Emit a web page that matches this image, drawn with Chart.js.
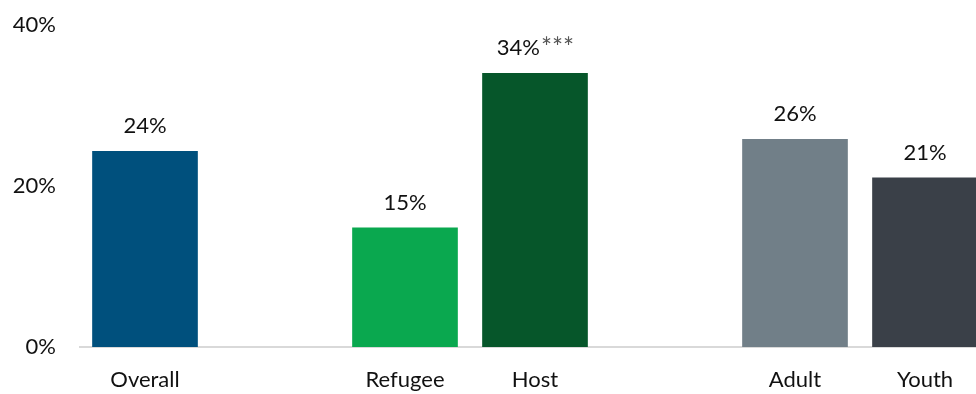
<!DOCTYPE html>
<html>
<head>
<meta charset="utf-8">
<script src="https://cdn.jsdelivr.net/npm/chart.js@4"></script>
<style>
  html, body { margin: 0; padding: 0; background: #fff; overflow: hidden; }
  .wrap { position: relative; width: 990px; height: 394px; }
</style>
</head>
<body>
<div class="wrap"><canvas id="chart"></canvas></div>
<script>
const categories = ["Overall", "", "Refugee", "Host", "", "Adult", "Youth"];
const shares = [24.3, null, 14.8, 34.0, null, 25.8, 21.0];
const valueLabels = ["24%", "", "15%", "34%", "", "26%", "21%"];
const sigMarks = ["", "", "", "***", "", "", ""];
const barColors = ["#00507d", null, "#0aa84f", "#06562a", null, "#717f88", "#3a4048"];
const yTicks = [0, 20, 40];

const FONT = "Lato, 'Open Sans', sans-serif";

// value labels above each bar
const barLabels = {
  id: "barLabels",
  afterDatasetsDraw(chart) {
    const ctx = chart.ctx;
    const meta = chart.getDatasetMeta(0);
    ctx.save();
    ctx.textBaseline = "bottom";
    meta.data.forEach((bar, i) => {
      if (shares[i] == null) return;
      const main = valueLabels[i];
      const sig = sigMarks[i];
      ctx.font = `22px ${FONT}`;
      const w1 = ctx.measureText(main).width;
      ctx.font = `26px ${FONT}`;
      const w2 = sig ? ctx.measureText(sig).width : 0;
      const x0 = bar.x - (w1 + w2) / 2;
      const y = bar.y - 14;
      ctx.fillStyle = "#111";
      ctx.textAlign = "left";
      ctx.font = `22px ${FONT}`;
      ctx.fillText(main, x0, y);
      if (sig) {
        ctx.fillStyle = "#555";
        ctx.font = `26px ${FONT}`;
        ctx.fillText(sig, x0 + w1 + 1, y + 2);
      }
    });
    ctx.restore();
  },
};

new Chart(document.getElementById("chart"), {
  type: "bar",
  data: {
    labels: categories,
    datasets: [
      {
        data: shares,
        backgroundColor: barColors,
        barThickness: 105,
      },
    ],
  },
  options: {
    responsive: true,
    maintainAspectRatio: false,
    animation: false,
    layout: { padding: { top: 25, bottom: 0, left: 0, right: 0 } },
    plugins: { legend: { display: false }, tooltip: { enabled: false } },
    scales: {
      x: {
        grid: { display: false, drawTicks: false },
        border: { display: true, color: "#d9d9d9", width: 2 },
        afterFit(scale) { scale.height = 47; },
        ticks: { color: "#111", font: { family: FONT, size: 22 }, padding: 20, autoSkip: false, maxRotation: 0 },
      },
      y: {
        min: 0,
        max: 40,
        grid: { display: false, drawTicks: false },
        border: { display: false },
        afterFit(scale) {
          scale.width = 80;
          scale.paddingTop = 0;
          scale.paddingBottom = 0;
        },
        afterBuildTicks(scale) { scale.ticks = yTicks.map((v) => ({ value: v })); },
        ticks: { color: "#111", font: { family: FONT, size: 22 }, padding: 24, callback: (v) => v + "%" },
      },
    },
  },
  plugins: [barLabels],
});
</script>
</body>
</html>
